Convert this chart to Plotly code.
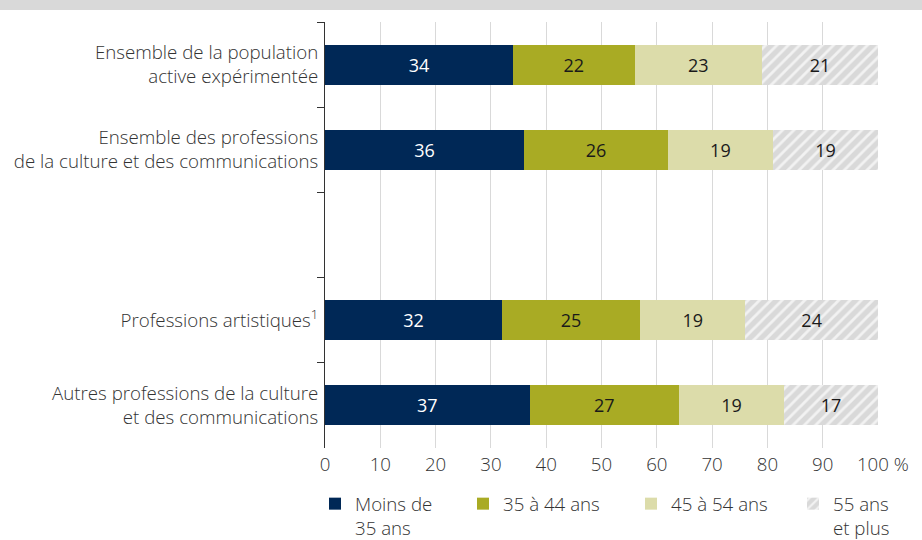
import plotly.graph_objects as go

categories = [
    "Ensemble de la population<br>active expérimentée",
    "Ensemble des professions<br>de la culture et des communications",
    " ",
    "Professions artistiques<sup>1</sup>",
    "Autres professions de la culture<br>et des communications",
]
series_names = ["Moins de<br>35 ans", "35 à 44 ans", "45 à 54 ans", "55 ans<br>et plus"]
moins_35 = [34, 36, None, 32, 37]
de_35_44 = [22, 26, None, 25, 27]
de_45_54 = [23, 19, None, 19, 19]
plus_55 = [21, 19, None, 24, 17]
x_ticks = [0, 10, 20, 30, 40, 50, 60, 70, 80, 90, 100]
x_ticktext = ["0", "10", "20", "30", "40", "50", "60", "70", "80", "90", "\u00a0\u00a0100 %"]

colors = ["#002856", "#a9ab24", "#dcdcaa", "#d9d9d9"]
text_colors = ["white", "#1a1a1a", "#1a1a1a", "#1a1a1a"]
all_series = [moins_35, de_35_44, de_45_54, plus_55]
legend_ids = ["legend", "legend2", "legend3", "legend4"]

FONT = "Open Sans"
FS = 18.7
TXT = "#333333"

plot_h = 540 - 22 - 92
plot_w = 922 - 325 - 44

fig = go.Figure()
for i, (name, vals) in enumerate(zip(series_names, all_series)):
    marker = dict(color=colors[i], line=dict(width=0))
    if i == 3:
        marker["pattern"] = dict(shape="/", bgcolor="#d9d9d9", fgcolor="#f2f2f2",
                                 size=8, solidity=0.35, fillmode="replace")
    fig.add_trace(go.Bar(
        y=categories, x=vals, name=name, orientation="h",
        marker=marker, width=0.47, legend=legend_ids[i],
        text=[("" if v is None else str(v)) for v in vals],
        textposition="inside", insidetextanchor="middle",
        textfont=dict(color=text_colors[i], size=18, family=FONT, weight=400),
        hoverinfo="skip",
    ))

# legend symbol centres (px) -> legend x positions
legend_px = [336, 484, 652, 814]
legend_y = -37 / plot_h
legend_common = dict(orientation="h", xanchor="left", y=legend_y, yanchor="top",
                     font=dict(size=FS, color=TXT, weight=300), valign="top",
                     bgcolor="rgba(0,0,0,0)")

layout_legends = {}
for lid, px in zip(legend_ids, legend_px):
    layout_legends[lid] = dict(x=(px - 21 - 325) / plot_w, **legend_common)

fig.update_layout(
    barmode="stack",
    width=922, height=540,
    margin=dict(l=325, r=44, t=22, b=92, autoexpand=False),
    paper_bgcolor="white", plot_bgcolor="white",
    font=dict(family=FONT, size=FS, color=TXT, weight=300),
    xaxis=dict(
        range=[0, 100], tickvals=x_ticks, ticktext=x_ticktext,
        showgrid=True, gridcolor="#d9d9d9", gridwidth=1,
        zeroline=False, showline=False, ticks="",
        tickfont=dict(size=FS, color=TXT, weight=300),
        ticklabelstandoff=3,
        fixedrange=True, automargin=False,
    ),
    yaxis=dict(
        categoryorder="array", categoryarray=categories,
        autorange="reversed",
        showline=True, linecolor=TXT, linewidth=1,
        ticks="outside", tickson="boundaries", ticklen=7, tickcolor=TXT,
        showgrid=False, zeroline=False,
        tickfont=dict(size=FS, color=TXT, weight=300),
        ticklabelstandoff=2, automargin=False, fixedrange=True,
    ),
    showlegend=True,
    **layout_legends,
)

# grey band at top
fig.add_shape(type="rect", xref="paper", yref="paper",
              x0=-325 / plot_w, x1=1 + 44 / plot_w,
              y0=1 + 12 / plot_h, y1=1 + 22 / plot_h,
              fillcolor="#d9d9d9", line=dict(width=0), layer="below")

fig.write_html("out.html", config={"displayModeBar": False})

with open("out.html", encoding="utf-8") as f:
    html = f.read()
html = html.replace("<head>", "<head><style>html,body{margin:0;padding:0;}</style>", 1)
with open("out.html", "w", encoding="utf-8") as f:
    f.write(html)
